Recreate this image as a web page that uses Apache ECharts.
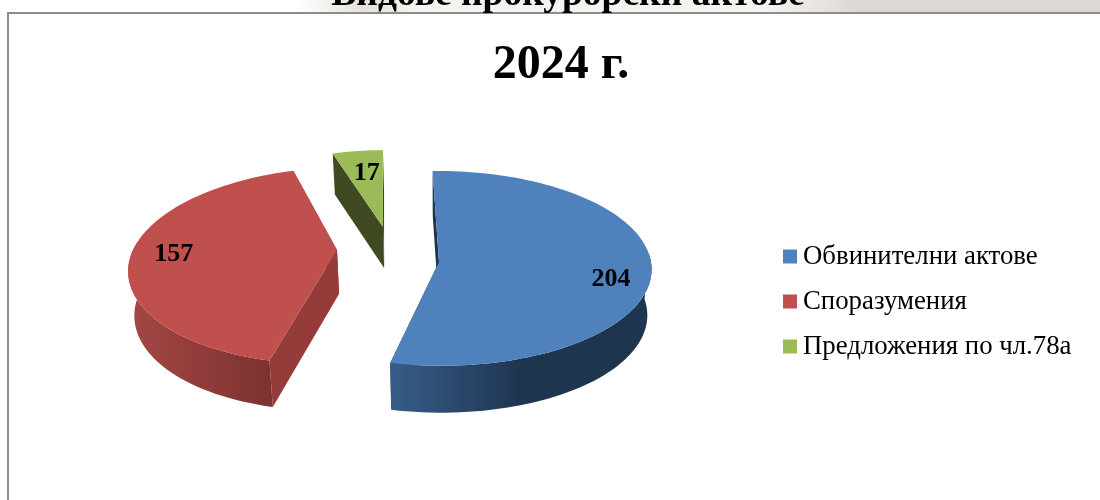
<!DOCTYPE html>
<html><head><meta charset="utf-8">
<style>html,body{margin:0;padding:0;background:#fff}#c{width:1100px;height:500px}</style>
<script src="https://cdn.jsdelivr.net/npm/echarts@6/dist/echarts.min.js"></script>
</head><body><div id="c"></div><script>
const categories = ['Обвинителни актове','Споразумения','Предложения по чл.78а'];
const values = [204,157,17];
const colors = ['#4f81bd','#c0504d','#9bbb59'];
const wallStops = [['#375c89','#1e3550'],['#a54745','#7c3230'],['#3f4a22','#3f4a22']];
const flatWalls = ['#1e3550','#953c3a','#3f4a22'];
const layout = [
 {ax:439,ay:262,a:212,b:97,k:0.065,s:2,d:46,rf:0.81,lx:0,ly:9},
 {ax:337,ay:250,a:204,b:95.8,k:0.16,s:-11.5,d:44,rf:0.79,lx:-1,ly:1},
 {ax:383,ay:227,a:180,b:77,k:0.0,s:-4,d:41,rf:0.72,lx:2,ly:1}
];
const startAngle = -1.3, vanishX = 439, floorScale = 0.98;
const total = values.reduce((p,c)=>p+c,0);
function proj(L,deg,r){
  const t=deg*Math.PI/180,u=Math.sin(t)*r,v=-Math.cos(t)*r,f=1/(1-L.k*v);
  return {x:L.ax+(L.a*u+L.s*v)*f,y:L.ay+L.b*v*f,f};
}
function lower(L,p){return [vanishX+(p.x-vanishX)*floorScale,p.y+L.d*(1+(p.f-1)*0.3)];}
const renderSlice = idx => (params,api)=>{
  const val=api.value(0),L=layout[idx];
  let a0=startAngle;
  for(let i=0;i<idx;i++)a0+=values[i]/total*360;
  const a1=a0+val/total*360,steps=Math.max(8,Math.round((a1-a0)/2));
  const rim=[];
  for(let i=0;i<=steps;i++)rim.push(proj(L,a0+(a1-a0)*i/steps,1));
  const apex=proj(L,0,0);
  const children=[];
  const lo=x=>lower(L,x);
  [rim[0],rim[rim.length-1]].forEach(p=>{
    children.push({type:'polygon',shape:{points:[[apex.x,apex.y],[p.x,p.y],lo(p),lo(apex)]},style:{fill:flatWalls[idx]}});
  });
  const front=rim.filter((p,i)=>-Math.cos((a0+(a1-a0)*i/steps)*Math.PI/180)>-0.1);
  if(front.length>1){
    const pts=front.map(p=>[p.x,p.y]).concat(front.slice().reverse().map(lo));
    children.push({type:'polygon',shape:{points:pts},style:{fill:new echarts.graphic.LinearGradient(0,0,1,0,[
      {offset:0,color:wallStops[idx][0]},{offset:idx===0?0.5:1,color:wallStops[idx][1]},{offset:1,color:wallStops[idx][1]}])}});
  }
  const top=[[apex.x,apex.y]].concat(rim.map(p=>[p.x,p.y]));
  children.push({type:'polygon',shape:{points:top},style:{fill:colors[idx]}});
  const lp=proj(L,(a0+a1)/2,L.rf);
  children.push({type:'text',z2:10,style:{text:String(val),x:lp.x+L.lx,y:lp.y+L.ly,align:'center',verticalAlign:'middle',
    fill:'#000',font:'bold 26px "Liberation Serif"'}});
  return {type:'group',children};
};
const order=[2,1,0];
const chart=echarts.init(document.getElementById('c'),null,{renderer:'canvas'});
chart.setOption({
  animation:false,
  backgroundColor:'#fff',
  title:[
    {text:'Видове прокурорски актове',left:563,textAlign:'center',top:-29,
      textStyle:{fontFamily:'Liberation Serif',fontWeight:'bold',fontSize:37.5,color:'#000'}},
    {text:'2024 г.',left:556,textAlign:'center',top:37,
      textStyle:{fontFamily:'Liberation Serif',fontWeight:'bold',fontSize:48,color:'#000'}}
  ],
  legend:{left:778,top:238,orient:'vertical',icon:'rect',itemWidth:14,itemHeight:14,itemGap:18,selectedMode:false,
    data:categories,textStyle:{fontFamily:'Liberation Serif',fontSize:26.8,color:'#000',padding:[0,0,0,1]}},
  graphic:[
    {type:'rect',z:-2,shape:{x:0,y:0,width:1100,height:12},style:{fill:new echarts.graphic.LinearGradient(0,0,1,0,[
      {offset:0,color:'#ffffff'},{offset:0.27,color:'#ffffff'},{offset:0.33,color:'#e6e2db'},{offset:0.38,color:'#f5f3f0'},{offset:0.7,color:'#f5f3f0'},{offset:0.78,color:'#ddd8d1'},{offset:1,color:'#ddd8d1'}])}},
    {type:'rect',z:-1,shape:{x:8,y:13,width:1200,height:600},style:{fill:'#fff',stroke:'#8c8c8c',lineWidth:2}}
  ],
  series:order.map(i=>({type:'custom',name:categories[i],coordinateSystem:'none',silent:true,
    itemStyle:{color:colors[i]},data:[[values[i]]],renderItem:renderSlice(i)}))
});
</script></body></html>
